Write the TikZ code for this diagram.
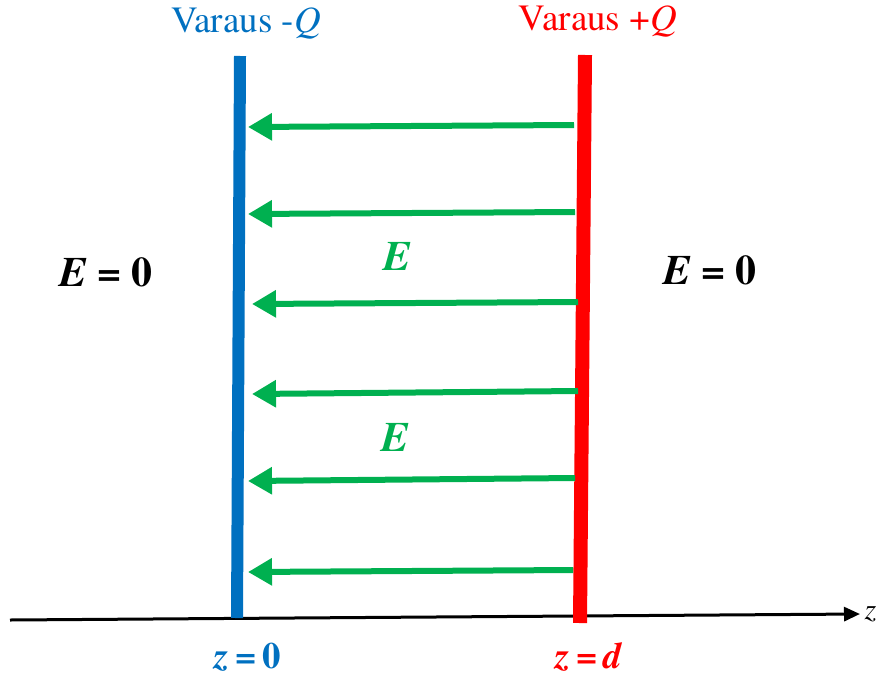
\documentclass[tikz,border=0pt]{standalone}
\usepackage{fontspec}
\setmainfont{texgyretermes}[Extension=.otf, UprightFont=*-regular, BoldFont=*-bold, ItalicFont=*-italic, BoldItalicFont=*-bolditalic]
\usetikzlibrary{arrows.meta, positioning, calc}
\definecolor{plateblue}{RGB}{0,112,192}
\definecolor{platered}{RGB}{255,0,0}
\definecolor{fieldgreen}{RGB}{0,176,80}

\begin{document}
\begin{tikzpicture}[x=1pt, y=-1pt,
    field/.style={fieldgreen, line width=6pt, -{Triangle[length=24pt, width=26pt]}},
    bigtext/.style={font=\fontsize{42}{46}\selectfont},
    midtext/.style={font=\fontsize{37}{40}\selectfont}]
    \useasboundingbox (0,0) rectangle (877,677);
    \coordinate (AxisStart) at (10,620);
    \coordinate (AxisEnd) at (860,614);
    \coordinate (NegTop) at (240,56);
    \coordinate (NegBot) at (237,618);
    \coordinate (PosTop) at (585,55);
    \coordinate (PosBot) at (580,623);
    
    \draw[line width=3pt, -{Triangle[length=16pt, width=14pt]}] (AxisStart) -- (AxisEnd);
    \draw[plateblue, line width=12pt] (NegTop) -- (NegBot);
    \draw[platered, line width=14pt] (PosTop) -- (PosBot);
    
    \foreach \tx/\ty/\hx/\hy [count=\i] in {574/125/248/127, 575/212/248/214, 578/302/252/304, 578/391/252/394, 575/478/248/481, 573/570/248/572} {
        \coordinate (Tail\i) at (\tx,\ty);
        \coordinate (Head\i) at (\hx,\hy);
        \draw[field] (Tail\i) -- (Head\i);
    }
    
    \node[midtext, plateblue] (NegLabel) at (246,24) {Varaus -\textit{Q}};
    \node[midtext, platered] (PosLabel) at (598,22) {Varaus +\textit{Q}};
    \node[bigtext] (LeftField) at (106,272) {\textbf{\textit{E}} \textbf{=} \textbf{0}};
    \node[bigtext] (RightField) at (710,270) {\textbf{\textit{E}} \textbf{=} \textbf{0}};
    \node[bigtext, fieldgreen] (TopField) at (398,256) {\textbf{\textit{E}}};
    \node[bigtext, fieldgreen] (BotField) at (396,437) {\textbf{\textit{E}}};
    \node[midtext, plateblue, inner sep=1pt] (NegPos) at (248,657) {\textbf{\textit{z}}\,\textbf{=}\,\textbf{0}};
    \node[midtext, platered, inner sep=1pt] (PosPos) at (589,657) {\textbf{\textit{z}}\,\textbf{=}\,\textbf{\textit{d}}};
    \node[font=\fontsize{30}{34}\selectfont, right=1pt of AxisEnd] (AxisLabel) {\textit{z}};
\end{tikzpicture}
\end{document}
